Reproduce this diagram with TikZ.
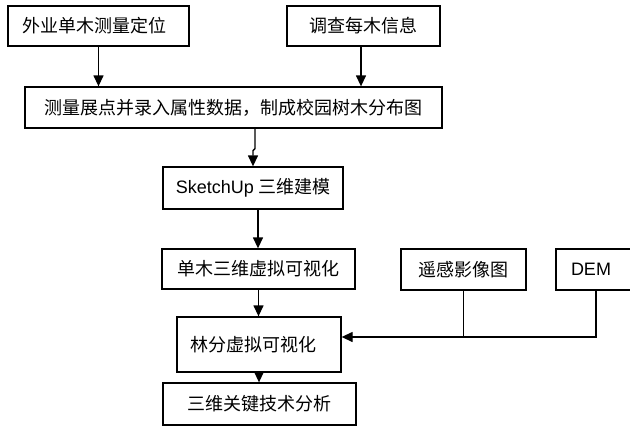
\documentclass[tikz,border=0pt]{standalone}
\usepackage{fontspec}
\setmainfont{Liberation Sans}
\newfontfamily\cjk{Noto Sans CJK SC}
\newfontfamily\latin{Liberation Sans}
\usetikzlibrary{arrows.meta}

\tikzset{
  box/.style={draw, line width=1.3pt, inner sep=0pt, font=\cjk\fontsize{18}{20}\selectfont},
  arr/.style={line width=1.3pt, -{Triangle[length=11pt,width=10pt]}},
  ln/.style={line width=1.3pt}
}

\begin{document}
\begin{tikzpicture}[x=1pt,y=-1pt]
  \useasboundingbox (0,0) rectangle (630,426);
  % top row
  \node[box, minimum width=181, minimum height=40] (surv) at (98.5,26) {外业单木测量定位\hspace*{8pt}};
  \node[box, minimum width=153, minimum height=40] (info) at (363.5,26) {调查每木信息};
  \node[box, minimum width=417, minimum height=41] (plot) at (233.5,107.5) {测量展点并录入属性数据，制成校园树木分布图};
  % main column
  \node[box, minimum width=180, minimum height=42] (sketch) at (253,188) {{\latin SketchUp} 三维建模};
  \node[box, minimum width=193, minimum height=40] (single) at (258.5,269) {单木三维虚拟可视化};
  \node[box, minimum width=164, minimum height=55] (stand) at (259,344.5) {林分虚拟可视化\hspace*{12pt}};
  \node[box, minimum width=193, minimum height=42] (analysis) at (259.5,404) {三维关键技术分析};
  % side inputs (DEM box runs off the page)
  \node[box, minimum width=125, minimum height=41] (rs) at (463.5,269.5) {遥感影像图};
  \node[box, minimum height=41, text width=50, inner xsep=15pt, align=left, font=\latin\fontsize{18}{20}\selectfont] (dem) at (596,269.5) {DEM};

  \coordinate (join) at (0,337);
  \draw[arr] (surv.south) -- (surv.south |- plot.north);
  \draw[arr] ([xshift=-2.5pt]info.south) -- ([xshift=-2.5pt]info.south |- plot.north);
  \draw[arr] ([xshift=2pt]sketch.north |- plot.south) -- ++(0,20) -- ++(-2,2) -- (sketch.north);
  \foreach \a/\b in {sketch/single, single/stand, stand/analysis} { %down the column
    \draw[arr] ([xshift=-0.5pt]\b.north |- \a.south) -- ([xshift=-0.5pt]\b.north);
  }
  \draw[arr] (dem.south) |- (stand.east |- join);
  \draw[ln] (rs.south) -- (rs.south |- join);
\end{tikzpicture}
\end{document}
